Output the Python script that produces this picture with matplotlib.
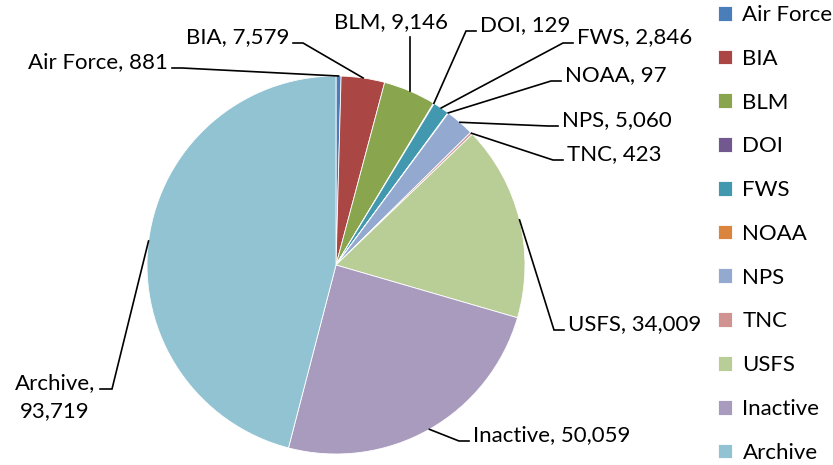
import matplotlib
matplotlib.use("Agg")
import matplotlib.pyplot as plt
import numpy as np

categories = ["Air Force", "BIA", "BLM", "DOI", "FWS", "NOAA", "NPS", "TNC", "USFS", "Inactive", "Archive"]
values = [881, 7579, 9146, 129, 2846, 97, 5060, 423, 34009, 50059, 93719]
colors = ["#4A7EBB", "#AA4643", "#89A54E", "#71588F", "#4198AF", "#DB843D",
          "#93A9CF", "#D19392", "#B9CD96", "#A99BBD", "#92C3D3"]

plt.rcParams['font.family'] = ['Lato', 'DejaVu Sans']
FS = 16

W, H = 833, 465
fig = plt.figure(figsize=(W / 100, H / 100), dpi=100)
ax = fig.add_axes([0, 0, 1, 1])

cx, cy, r = 336, H - 265, 189
wedges, _ = ax.pie(values, colors=colors, startangle=90, counterclock=False,
                   center=(cx, cy), radius=r, frame=True,
                   wedgeprops=dict(linewidth=0.6, edgecolor='white'))
ax.set_xlim(0, W)
ax.set_ylim(0, H)
ax.set_aspect('equal')
ax.axis('off')

# text edge x, text centre y (pixels from the top), alignment
label_pos = {
    "Air Force": (168, 62, 'right'),
    "BIA": (289, 37, 'right'),
    "BLM": (391, 22, 'center'),
    "DOI": (480, 25, 'left'),
    "FWS": (577, 37, 'left'),
    "NOAA": (565, 75, 'left'),
    "NPS": (562, 120, 'left'),
    "TNC": (567, 154, 'left'),
    "USFS": (568, 324, 'left'),
    "Inactive": (473, 435, 'left'),
    "Archive": (100, 383, 'right'),
}

for w, name, val in zip(wedges, categories, values):
    mid = np.deg2rad((w.theta1 + w.theta2) / 2)
    ex = cx + r * np.cos(mid)
    ey = cy + r * np.sin(mid)
    px, py, ha = label_pos[name]
    ty = H - py
    if name == "Archive":
        ax.text(px - 45, ty, f"{name},", ha='center', va='center', fontsize=FS)
        ax.text(px - 45, ty - 28, f"{val:,}", ha='center', va='center', fontsize=FS)
        sy = ty - 6
        pts = [(px, sy), (px + 12, sy), (ex, ey)]
    else:
        ax.text(px, ty, f"{name}, {val:,}", ha=ha, va='center', fontsize=FS)
        sy = ty - 6
        if ha == 'right':
            pts = [(px + 4, sy), (px + 14, sy), (ex, ey)]
        elif ha == 'left':
            pts = [(px - 4, sy), (px - 14, sy), (ex, ey)]
        else:
            pts = [(ex, ty - 15), (ex, ey)]
    ax.plot([p[0] for p in pts], [p[1] for p in pts], color='black', lw=1.2,
            solid_joinstyle='miter')

leg = ax.legend(wedges, categories, loc='upper left', bbox_to_anchor=(718 / W, 1.0 - 5 / H),
                bbox_transform=fig.transFigure, frameon=False, fontsize=FS,
                handlelength=0.65, handleheight=0.65, handletextpad=0.45,
                labelspacing=1.07, borderaxespad=0.0, borderpad=0.0)

fig.savefig("out.png", dpi=100)
